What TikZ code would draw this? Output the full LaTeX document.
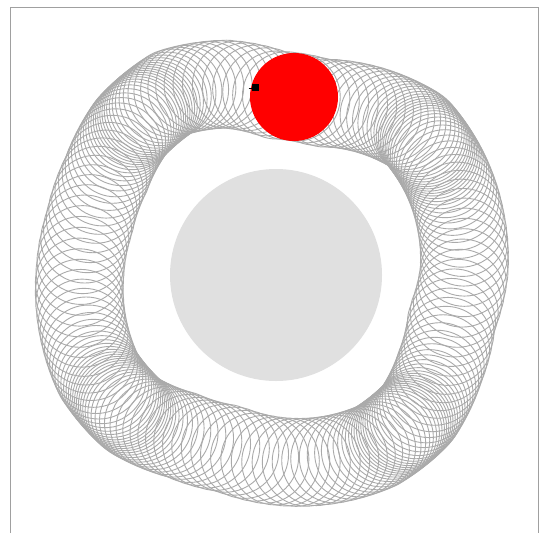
\documentclass[tikz,border=0pt]{standalone}
\definecolor{ringgray}{RGB}{170,170,170}
\definecolor{diskgray}{RGB}{224,224,224}
\definecolor{framegray}{RGB}{160,160,160}
\tikzset{
  ringcircle/.style={draw=ringgray, line width=0.9pt},
  framestyle/.style={draw=framegray, line width=1.6pt},
}
\begin{document}
\begin{tikzpicture}[x=1pt,y=-1pt]
\useasboundingbox (0,0) rectangle (540,533);
\fill[white] (0,0) rectangle (540,533);
% frame (open at the bottom)
\draw[framestyle] (10.5,533) -- (10.5,7.5) -- (538.5,7.5) -- (538.5,533);
% central disk
\fill[diskgray] (276,275) circle (106pt);
% radius table of the path of centres, every 15 degrees
\def\rtab{{188,191.5,195.5,199,187,175,177,194.5,207,205,196,193,196,200.5,205,202,188.5,183,189,195,201,200,189.5,182,188}}
\foreach \k in {0,...,179} {
  \pgfmathsetmacro{\ph}{2*\k}
  \pgfmathsetmacro{\th}{mod(\ph - 8.6*sin(4*(\ph-40)) + 720, 360)}
  \pgfmathtruncatemacro{\i}{floor(\th/15)}
  \pgfmathsetmacro{\f}{\th/15-\i}
  \pgfmathsetmacro{\ra}{\rtab[\i]}
  \pgfmathsetmacro{\rb}{\rtab[\i+1]}
  \pgfmathsetmacro{\r}{\ra+\f*(\rb-\ra)}
  \pgfmathsetmacro{\cx}{276+\r*cos(\th)}
  \pgfmathsetmacro{\cy}{272-\r*sin(\th)}
  \draw[ringcircle] (\cx,\cy) circle (44pt);
}
% rolling red disk with its marker
\fill[red] (294,97) circle (44pt);
\fill[black] (252,84) rectangle (259,91);
\draw[black, line width=0.8pt] (248.5,88) -- (252,88);
\end{tikzpicture}
\end{document}
